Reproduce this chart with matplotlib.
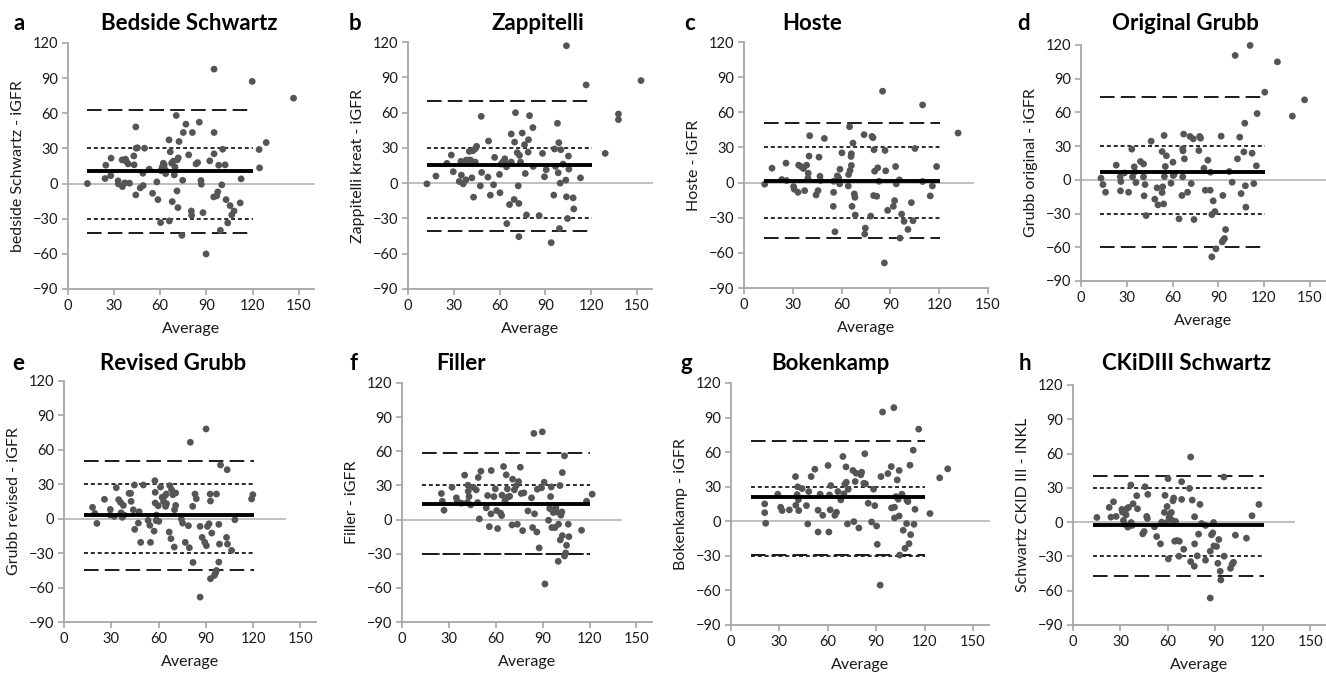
import matplotlib
matplotlib.use("Agg")
import matplotlib.pyplot as plt

plt.rcParams['font.family'] = ['Lato', 'DejaVu Sans']

W, H = 1326, 674

# ---------------- data ----------------
titles = ["Bedside Schwartz", "Zappitelli", "Hoste", "Original Grubb",
          "Revised Grubb", "Filler", "Bokenkamp", "CKiDIII Schwartz"]
letters = ["a", "b", "c", "d", "e", "f", "g", "h"]
ylabels = ["bedside Schwartz - iGFR", "Zappitelli kreat - iGFR", "Hoste - iGFR",
           "Grubb original - iGFR", "Grubb revised - iGFR", "Filler - iGFR",
           "Bokenkamp - iGFR", "Schwartz CKID III - INKL"]
x_ticks = [0, 30, 60, 90, 120, 150]
y_ticks = [-90, -60, -30, 0, 30, 60, 90, 120]

bias = [10.5, 15.1, 1.7, 7.1, 3.2, 13.8, 20.9, -2.6]
loa_upper = [63, 70.2, 51.1, 73.6, 50.3, 58.4, 69.9, 40.6]
loa_lower = [-42.5, -40.6, -47.1, -60, -44.8, -30.2, -29.6, -46.8]
ref_limit = 30

a_x = [12.6, 24.6, 24.1, 28, 27.8, 32.6, 32.8, 35.2, 35.4, 37.4, 37, 38, 39.1, 40, 42.8, 43, 44.1, 44.3, 44.1,
       45.2, 49.8, 47, 48.9, 48.7, 52.8, 55, 57.8, 58.5, 60.2, 60.4, 61.3, 62, 62.6, 63.3, 63.5, 65.7, 65.9,
       66.5, 67.8, 67.4, 68.5, 69.1, 69.6, 70.4, 70.9, 71.1, 71.5, 72.2, 71.7, 74.1, 74.6, 75, 76.7, 78.5,
       80.2, 80.4, 80.9, 83.3, 84.3, 85.4, 86.5, 86.7, 87.8, 89.8, 92.2, 95, 94.8, 95, 95, 96.7, 97.4, 98,
       99.1, 100, 100.6, 102.2, 102.8, 103.9, 105.4, 106.5, 108, 112, 112.6, 119.8, 124.3, 124.6, 128.9, 146.7]
a_y = [0, 15.7, 4.3, 21.7, 6.8, 2.3, -0.3, 20.2, -2.6, 20.8, 0.6, 18.8, 16.8, 0.3, 23.6, 16, 48.4, 30.2, -9.7,
       30.5, 30.2, -3.7, -1.7, 8.8, 12.3, -8.3, 1.4, -13.7, -33.3, 11.1, 14, 17.4, 16, 11.7, 8.5, 37.3, -31.9,
       27.1, -15.4, 17.4, 19.1, 7.4, 14, 58.1, -6.3, 20.2, -20.5, 35.9, 21.9, -44.2, 2.8, 43.6, 50.7, 24.5,
       -23.4, -27.1, 43.6, 16.8, 17.9, 52.4, 2.6, -0.6, -24.8, -60.1, 19.4, 97.7, -11.4, 43.6, 25.4, -10.5,
       -7.1, 15.7, -39.9, -1.1, 29.3, 16, -13.7, -33.6, -18.8, -26.8, -23.4, -16.5, 4, 87.2, 29.1, 13.4, 35, 72.9]

b_x = [12.4, 18.3, 25.5, 28.4, 29.7, 33.6, 34.7, 35, 36.2, 38.2, 38, 39.7, 40.2, 41, 41.9, 42.6, 43, 44.1, 44.1,
       45, 47.4, 48, 48.3, 52.4, 52.8, 54, 56.1, 56.8, 60, 60.3, 61.1, 62.2, 63.5, 64.6, 64.8, 65.3, 66.6,
       67.7, 67.7, 69.6, 69.9, 70.5, 71.6, 72.3, 72.7, 72.7, 73.1, 73.8, 74.9, 76.4, 76.9, 77.7, 78.8, 79,
       79.7, 81.9, 82.1, 86, 88.2, 89.5, 90.6, 93.9, 95.6, 96.1, 96.7, 98, 98.5, 98.9, 99.3, 99.8, 100.2,
       101.7, 103.5, 103.9, 103.9, 104.6, 105.2, 105.5, 108.3, 108.7, 113.1, 116.8, 129.3, 138, 138, 152.8]
b_y = [-0.6, 6, 16.8, 23.9, 9.7, 1.4, 18.5, 6.8, -0.6, 19.6, 2.8, 19.6, 27, 19.6, 4.5, 27.6, -11.9, 17.9, 29.3,
       31.3, -2.3, 56.8, 9.1, 5.1, 35.8, -10.2, -1.4, 21.9, 7.4, -8.2, 16.2, 17.9, 20.7, 13.9, -34.4, 16.2,
       -18.2, 17.9, 41.8, -13.9, 34.9, 59.9, 25.9, -2.3, -17.3, -45.5, 23.6, 17.9, 42.6, 32.7, 8.2, -27, 26.4,
       36.9, 57.4, 47.2, 14.2, -27.6, 25.3, 5.4, 11.4, -50.6, -10.2, 29, 14.2, 50.9, 8.8, 34.4, -38.6, 0, 28.4,
       16.2, 2.6, 116.8, -11.6, -30.1, 23, 11.9, -12.5, -21.9, 4.5, 83.5, 25.3, 58.8, 54, 87.2]

c_x = [12.7, 17.2, 23.2, 25.8, 26.2, 30.5, 30.9, 33.2, 33.6, 35, 36.5, 37.3, 38.5, 39.3, 39.5, 40, 40.4, 44.3,
       45.5, 46.1, 46.7, 47.1, 49.4, 54.9, 55.1, 55.9, 55.1, 57.4, 58.2, 59, 58.8, 60.2, 64.1, 64.3, 64.9,
       65.2, 65.8, 66, 66, 66.4, 67, 67.8, 68.2, 68.4, 73.8, 74.2, 74.6, 77.9, 78.7, 79.3, 79.7, 79.9, 80.3,
       81.6, 82.2, 83, 85.2, 86.3, 86.7, 87.1, 88.3, 91.8, 92.6, 93.2, 93.6, 95.5, 95.9, 96.9, 98.4, 100.8,
       102.9, 103.9, 105.1, 109.8, 109.8, 114.5, 115.8, 118.4, 131.6]
c_y = [-1.4, 12.3, 2.6, 16.6, 1.7, -3.4, -5.7, -8.3, 14.9, 13.7, 12, -6.9, 14.9, 3.7, 8, 22.6, 40, -10.6, -6.9,
       21.7, 5.4, 1.7, 37.7, -20.3, -8.3, -42, 1.1, 5.7, 4, 11.4, -1.1, 25.4, -2.9, 6.9, 47.7, 10.3, 22.3,
       14.6, 24.6, -20.3, 33.7, -9.7, -12.6, -27.7, 40.9, -44, -38.9, -28.6, 39.4, 38.3, -11.1, 28, 9.7,
       -11.7, 12.6, 1.1, 78, -68.6, 27.4, 10, -23.7, -20.3, -15.4, 13.7, -1.1, 2.3, -47.4, -26.9, -33.1, -40,
       -17.1, -32.6, 29.1, 66.3, 0.9, -11.4, -2.9, 13.7, 42.3]

d_x = [13.1, 14.4, 16.1, 23.1, 25.7, 26.1, 25.9, 28.5, 31.2, 33.3, 33.8, 34.9, 35.3, 36, 39, 41, 41, 41.4, 42,
       42.7, 46, 48.4, 49.9, 50.5, 53.2, 53.2, 53.6, 54.5, 54.2, 54.7, 55.3, 56, 59, 60.3, 60.5, 61, 64.3,
       66.2, 66.7, 66.7, 66.9, 67.3, 67.8, 69.9, 71.5, 72.3, 73.6, 74.1, 77.3, 77.8, 78.4, 80.6, 81.5, 83.2,
       84.7, 84.9, 85.8, 85.8, 86.7, 87.8, 88.5, 91.9, 92.6, 93, 93.2, 94.1, 94.8, 97.2, 99.1, 101.1, 102.6,
       104.1, 105, 106.8, 107.4, 107.8, 108.1, 110.9, 112.2, 113.3, 115, 115.5, 120.5, 128.8, 138.6, 146.6]
d_y = [1.5, -4.2, -11, 13.1, 2.7, -1.5, -9.8, 6.2, -11, 27.3, 2.7, 11.6, 7.1, -2.4, 16.3, 14.2, 2.7, -14.2, -4.2,
       -31.8, 34.4, -17.2, -7.1, -22.3, 25.2, -11.3, -6.2, 39.5, -21.4, 3, 11.9, 21.4, -3, 15.7, 3.9, 4.7,
       -34.7, -13.9, 2.7, 27.6, 25.8, 40.7, 18.7, -11, 38.6, -3.3, 36.5, -35.3, 26.1, 38.6, 37.1, 10.4, -9.2,
       17.5, -9.2, 6.8, -68.5, -30.9, -18.7, -28.2, -61.4, 38.9, -55.2, -13.9, -53.7, -52.2, -44.2, 7.4, -2.1,
       110.7, 18.7, 38, -12.2, 24.9, 50.4, -5.3, -24.3, 119.6, 23.7, -3.3, 12.5, 59, 78, 105, 56.7, 71.2]

e_x = [18.1, 19.6, 20.9, 25.7, 29.4, 29.4, 31.9, 33.2, 34.7, 36.2, 35.9, 37, 37.7, 38.1, 41.3, 42.6, 42.3, 44,
       44.7, 44.9, 47.2, 47.7, 48.7, 50.4, 53.4, 54.5, 54.9, 57.2, 57.7, 57.9, 57.9, 58.5, 58.7, 59.8, 60.2,
       61.3, 62.3, 63.2, 63.8, 64.5, 64.9, 65.1, 66.8, 67.2, 67.9, 68.3, 69.1, 70, 70.2, 70.9, 70.9, 74.5,
       75.3, 77, 79, 79.6, 80.2, 81.7, 81.9, 83.2, 84, 86.4, 86.4, 87.7, 89.4, 90.2, 90.4, 91.1, 92.1, 92.8,
       93, 93, 93.8, 95.5, 96.2, 96.8, 96.8, 98.3, 98.3, 98.7, 99.4, 103.2, 103.6, 103.8, 106.4, 108.5,
       119.1, 119.9]
e_y = [9.9, 4.7, -4.1, 16.9, 8.1, 3.2, 2, 27, 16.6, 5.2, 14.2, 1.2, 11.6, 3.2, 22.1, 15.1, 22.1, 7.8, 29.4, -9.3,
       -3.8, 6.1, -20.6, 29.4, -1.5, -5.8, -20.6, -10.8, 33.1, 13.7, 23, -1.7, 3.2, 11.3, -2.3, 27.6, 18.6,
       14.8, 19.5, 10.8, 21.5, 13.1, -11.6, 28.8, -17.4, 25.3, 20.9, -24.7, 7.8, 11.6, 22.4, -0.3, -3.8, -20.6,
       -6.1, -25.3, 66.6, 10.8, -38.1, 21.5, 17.4, -68.3, -6.7, -16.3, -20.6, 78.2, -23.5, -6.7, -4.4, 21.5,
       15.4, -52.3, -12.5, -49.4, -47.4, -45.1, 21.5, -37.8, -4.9, -22.1, 46.8, -16.3, 42.7, -22.1, -27.6,
       -0.9, 17.2, 20.9]

f_x = [25.2, 25.8, 26.9, 32, 34.8, 35.4, 38, 40.1, 41.8, 42.2, 42.4, 42.9, 43.9, 45.6, 47.5, 48.4, 48.8, 49.5,
       50.5, 53.9, 54.8, 55.9, 56.9, 57.1, 58.8, 59.7, 60.6, 61.2, 63.1, 63.8, 64, 65, 65.9, 66.7, 67.4, 67.8,
       68.9, 70.4, 70.8, 71.9, 73, 73.8, 74.6, 75.7, 76.3, 77.2, 78, 80.6, 82.9, 83.6, 84.4, 84.8, 86.3, 86.6,
       87.8, 89.3, 89.8, 91, 91.5, 93.8, 94.5, 95.1, 95.5, 95.9, 96.8, 97.9, 98.5, 98.9, 100, 100.2, 101.1,
       101.3, 101.7, 102.3, 102.6, 102.6, 104, 104, 104.7, 105.3, 106.4, 106.8, 114.9, 118.1, 121.7]
f_y = [22.9, 16.1, 8.2, 28.4, 19.1, 15.8, 14.4, 39, 15, 30.2, 24.9, 20.2, 12.9, 28.4, 26.1, 15, 37, 0.6, 42.5,
       10.3, 21.1, -6.2, 5, 43.1, 20.2, 27, 7.9, -7.9, 5.6, 3.5, 21.4, 46.6, 16.4, 39.3, 27, 19.9, 20.5, -4.7,
       35.5, 26.1, 29.6, -4.1, 33.4, 46, 22.9, -9.7, 23.5, 7.6, 19.1, -7, 75.7, 5, -10.9, 26.7, -24.9, 27.9,
       77.1, 32.8, -56.6, -0.6, 9.7, 20.2, 28.7, -7, 6.2, -7, 10.6, 6.7, -36.7, -4.1, 29.9, -17.9, 3.8, 6.7,
       41.3, -14.1, 56, -32, -29.3, -22.6, -4.1, -15, -9.4, 16.1, 22.3]

g_x = [20.9, 20.9, 21.5, 29, 30.8, 31.7, 36.2, 40, 40.2, 41, 41.4, 41.8, 42, 44.1, 46.8, 47.6, 48.2, 49.7, 52,
       54, 54, 55.3, 56.9, 60.2, 60.7, 61.1, 61.5, 61.9, 64.4, 65.4, 66.3, 68.1, 69.4, 70, 70.6, 71.3, 71.5,
       72.2, 72.7, 75.6, 76.2, 77, 77.6, 79.3, 80.5, 81, 82.4, 83, 83.4, 85.1, 87.2, 88.4, 89.2, 90.3, 90.7,
       92.5, 93, 94, 97.3, 99.4, 99.6, 101, 101.4, 101.4, 102.3, 103.1, 103.7, 104.3, 104.3, 104.6, 106,
       106.8, 107.9, 108.9, 109.1, 109.7, 110.4, 111, 111.4, 113, 113.5, 114.1, 116.4, 123.4, 129.4, 134.4]
g_y = [15.1, 7.5, -1.7, 23.5, 12.2, 9.3, 9.9, 38.8, 13.9, 23.2, 29.9, 18.8, 9.3, 28.4, 13.6, -2.3, 25.8, 38.8,
       45.2, 9.6, -9.3, 23.5, 5.2, 48.4, -9.3, 22.9, 9.9, 31, 5.2, 7.8, 25.8, 18.6, 56.2, 23.8, 32.2, 47.2,
       33.9, -2.3, 27.8, 44.1, -0.3, 34.5, 41.7, -5.8, 40.3, 42.6, 33, 58.6, 32.5, 15.7, -0.6, 27.8, 13.6,
       -4.1, -20, -55.4, 38.8, 94.8, 41.4, 47.5, 11.6, 98.6, 2.9, 12.2, 21.4, 35.9, 19.1, 44.1, 4.6, -29.3,
       23.5, -7.8, -23.5, -2, 18.3, 17.1, -19.4, 48.7, -11.6, 61.7, -2.6, 10.4, 80, 6.7, 37.7, 45.5]

h_x = [15.1, 22.9, 24, 25.6, 27.3, 30.9, 31.3, 31.9, 32.6, 33.6, 34, 34.7, 35.1, 36.6, 36.8, 37.4, 38, 40.3,
       40.8, 44.1, 45, 45.6, 46.6, 47, 47.3, 51.5, 52.9, 55.3, 56.1, 57.8, 58.2, 58.8, 59.5, 60.1, 60.3, 60.7,
       61.3, 62.2, 62.4, 63.2, 63.7, 64.3, 64.9, 65.8, 67, 67.2, 68.7, 68.7, 70, 73.7, 74.4, 74.4, 75.4, 76.7,
       76.9, 76.9, 78.6, 79.4, 80.3, 81.3, 83.8, 83.8, 86.8, 86.8, 87.6, 88.4, 88.9, 89.1, 90.8, 91.6, 92.2,
       93.1, 93.5, 95.4, 95.6, 99.6, 100.6, 101.5, 102.7, 109.7, 113.2, 117.6]
h_y = [4.1, 12.9, 4.4, 17.8, 5, 11.1, 8.8, 1.5, -1.8, 6.4, 11.7, -4.4, 12.9, 32.5, -0.3, -2.9, 16.1, 23.1, 11.7,
       -10.2, -8.2, 31, 5, 3.2, 24.3, -4.1, -12.6, -19, 0, 8.5, 23.4, -0.6, 13.7, 38, -32.2, 3.8, 7, 8.5, 2,
       18.7, 21.1, -16.7, 0.6, -16.1, -29.8, -16.7, 35.4, 19.9, -23.7, 29.5, 57, -34.5, 19.3, -38.6, -19, 4.7,
       -29.5, -10.5, 15.5, -1.2, -33.3, -2.9, -25.4, -66.4, -11.1, -9.4, -0.3, -20.8, -21.3, -36, -15.2, -43,
       -50.6, 39.5, -29.8, -40.4, -36.8, -35.1, -11.4, -14, 5.6, 15.5]

xs = [a_x, b_x, c_x, d_x, e_x, f_x, g_x, h_x]
ys = [a_y, b_y, c_y, d_y, e_y, f_y, g_y, h_y]
x_max = [160, 160, 150, 160, 160, 160, 160, 160]
zero_end = [160, 160, 141, 160, 140, 140, 160, 140]
line_start, line_end = 12.5, 120.5

# ---------------- layout (pixels) ----------------
# left spine x, x at xmax, y of 120, y of -90
boxes = [(68, 314, 43, 289), (408, 652, 42, 289), (744, 988, 42, 288), (1081, 1325, 45, 281),
         (64, 316, 381, 622), (402, 652, 383, 622), (731, 989, 383, 625), (1073, 1326, 385, 625)]
title_pos = [(189, 30), (538, 30), (812, 30), (1185, 30),
             (173, 370), (461, 370), (830, 370), (1187, 370)]
letter_pos = [(13, 30), (349, 30), (684, 30), (1017, 30),
              (12, 370), (349, 370), (681, 370), (1019, 370)]

fig = plt.figure(figsize=(W / 100, H / 100), dpi=100)

spine_col = '#a6a6a6'
dot_col = '#555555'

for i in range(8):
    l, r, t, b = boxes[i]
    ax = fig.add_axes([l / W, 1 - b / H, (r - l) / W, (b - t) / H])
    ax.set_xlim(0, x_max[i])
    ax.set_ylim(-90, 120)
    ax.set_xticks(x_ticks)
    ax.set_yticks(y_ticks)
    for s in ['top', 'right']:
        ax.spines[s].set_visible(False)
    for s in ['left', 'bottom']:
        ax.spines[s].set_color(spine_col)
        ax.spines[s].set_linewidth(1.3)
    ax.tick_params(axis='both', direction='out', length=4, width=1.2, color=spine_col,
                   labelsize=10.5, labelcolor='#1a1a1a', pad=3)

    ax.plot([0, zero_end[i]], [0, 0], color='#c0c0c0', lw=1.4, zorder=1, clip_on=False)
    ax.plot([line_start, line_end], [ref_limit, ref_limit], color='#1a1a1a', lw=1.3,
            dashes=(2.2, 1.6), zorder=2)
    ax.plot([line_start, line_end], [-ref_limit, -ref_limit], color='#1a1a1a', lw=1.3,
            dashes=(2.2, 1.6), zorder=2)
    ax.plot([line_start, line_end], [loa_upper[i], loa_upper[i]], color='#1a1a1a', lw=1.4,
            dashes=(7.5, 3.2), zorder=2)
    ax.plot([line_start, line_end], [loa_lower[i], loa_lower[i]], color='#1a1a1a', lw=1.4,
            dashes=(7.5, 3.2), zorder=2)
    ax.plot([line_start, line_end], [bias[i], bias[i]], color='black', lw=2.8, zorder=4,
            solid_capstyle='butt')
    ax.scatter(xs[i], ys[i], s=24, color=dot_col, edgecolors='none', zorder=3, clip_on=False)

    ax.set_ylabel(ylabels[i], fontsize=11.5, color='#1a1a1a')
    ax.yaxis.label.set_va('center')
    ax.yaxis.set_label_coords(-50 / (r - l), 0.5)
    ax.set_xlabel("Average", fontsize=11.5, color='#1a1a1a')
    ax.xaxis.set_label_coords(0.5, -33 / (b - t))

    tx, ty = title_pos[i]
    fig.text(tx / W, 1 - ty / H, titles[i], fontsize=16, fontweight='bold',
             ha='center', va='baseline')
    lx, ly = letter_pos[i]
    fig.text(lx / W, 1 - ly / H, letters[i], fontsize=16, fontweight='bold',
             ha='left', va='baseline')

fig.savefig("out.png", dpi=100)
